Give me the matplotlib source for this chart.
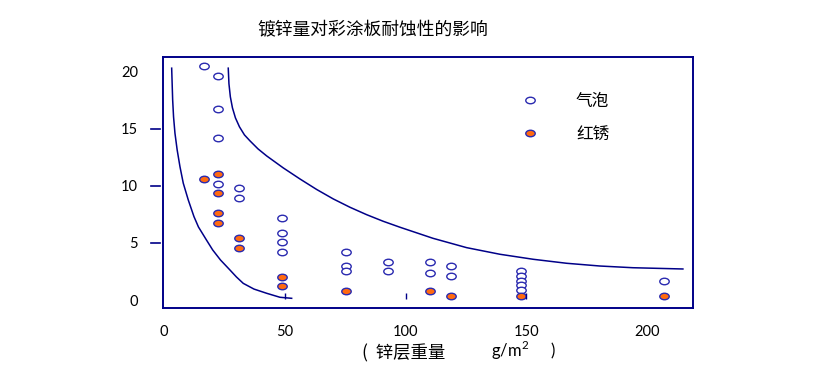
import matplotlib.pyplot as plt
from matplotlib.path import Path
from matplotlib.transforms import Affine2D

# zinc coating weight (g/m2) vs. corrosion data
bubble_x = [16.5, 22.5, 22.5, 22.5, 22.5, 31, 31, 48.8, 48.8, 48.8, 48.8,
            75.3, 75.3, 75.3, 92.7, 92.7, 110, 110, 119, 119,
            148, 148, 148, 148, 148, 207]
bubble_y = [20.5, 19.6, 16.7, 14.2, 10.2, 9.8, 8.9, 7.2, 5.9, 5.1, 4.2,
            4.2, 3.0, 2.5, 3.3, 2.5, 3.3, 2.4, 3.0, 2.1,
            2.5, 2.1, 1.7, 1.3, 0.9, 1.7]
rust_x = [16.5, 22.5, 22.5, 22.5, 22.5, 31, 31, 48.8, 48.8, 75.3, 110, 119, 148, 207]
rust_y = [10.6, 11.05, 9.4, 7.6, 6.75, 5.4, 4.6, 2.0, 1.2, 0.8, 0.8, 0.35, 0.35, 0.35]

# hand drawn boundary curves, traced point by point
inner_x = [3.19, 3.60, 3.97, 4.55, 5.46, 6.62, 7.99, 10.06, 12.42, 14.28,
           17.59, 20.16, 23.39, 27.32, 30.0, 32.82, 37.25, 42.51, 48.01, 52.86]
inner_y = [20.32, 17.54, 16.05, 14.62, 13.16, 11.69, 10.24, 8.77, 7.31, 6.40,
           5.26, 4.39, 3.51, 2.63, 2.02, 1.46, 0.96, 0.59, 0.24, 0.15]
outer_x = [26.61, 26.90, 27.48, 28.35, 29.59, 31.25, 33.32, 35.60, 38.91,
           42.51, 49.38, 56.29, 63.20, 70.08, 76.99, 83.90, 90.77,
           97.68, 111.34, 125.29, 139.07, 152.86, 166.68, 180.46, 194.12, 214.82]
outer_y = [20.32, 18.95, 17.81, 16.84, 15.96, 15.18, 14.47, 13.95, 13.25,
           12.63, 11.58, 10.61, 9.69, 8.86, 8.13, 7.48, 6.90,
           6.38, 5.41, 4.59, 4.01, 3.57, 3.22, 2.98, 2.83, 2.72]

xticks = [0, 50, 100, 150, 200]
yticks = [0, 5, 10, 15, 20]
ymarks = [5, 10, 15]
xmarks = [50, 100, 150]

navy = '#000088'
blue = '#2b2bb0'
orange = '#ff6a10'
cjk = ['Noto Sans CJK SC', 'DejaVu Sans']

plt.rcParams['font.family'] = ['Lato', 'Noto Sans CJK SC', 'DejaVu Sans']
plt.rcParams['mathtext.fontset'] = 'custom'
plt.rcParams['mathtext.rm'] = 'Lato'

# flat ellipse marker like the original drawing
ellipse = Path.unit_circle().transformed(Affine2D().scale(1.45, 1.0))

fig = plt.figure(figsize=(8.36, 3.83), dpi=100)
ax = fig.add_axes([163 / 836, 1 - 308 / 383, 530 / 836, 251 / 383])

ax.plot(inner_x, inner_y, color=navy, lw=1.1, solid_joinstyle='round')
ax.plot(outer_x, outer_y, color=navy, lw=1.1, solid_joinstyle='round')
ax.plot(bubble_x, bubble_y, ls='none', marker=ellipse, ms=6.8,
        mfc='white', mec=blue, mew=1.0, label='气泡')
ax.plot(rust_x, rust_y, ls='none', marker=ellipse, ms=6.8,
        mfc=orange, mec=blue, mew=1.0, label='红锈')

# small stray tick marks of the original
ax.vlines(xmarks, 0.035, 0.06, transform=ax.get_xaxis_transform(),
          color=navy, lw=1.0)
for v in ymarks:
    ax.plot([-0.023, -0.006], [v, v], transform=ax.get_yaxis_transform(),
            color=navy, lw=1.2, clip_on=False)

ax.set_xlim(-0.4, 219)
ax.set_ylim(-0.7, 21.3)
ax.set_xticks(xticks)
ax.set_yticks(yticks)
ax.tick_params(length=0, labelsize=10.5)
ax.tick_params(axis='x', pad=12)
ax.tick_params(axis='y', pad=18)
for s in ax.spines.values():
    s.set_color(navy)
    s.set_linewidth(1.4)

leg = ax.legend(loc='upper left', bbox_to_anchor=(0.633, 0.916), frameon=False,
                prop={'family': cjk, 'size': 12}, handlelength=2.0,
                handletextpad=1.75, labelspacing=0.95)

fig.text(373 / 836, 1 - 30 / 383, '镀锌量对彩涂板耐蚀性的影响', family=cjk,
         fontsize=12.8, ha='center', va='center')
fig.text(404 / 836, 1 - 353 / 383, '(  锌层重量', family=cjk,
         fontsize=12.5, ha='center', va='center')
fig.text(510 / 836, 1 - 350 / 383, 'g/m$^2$', fontsize=12,
         ha='center', va='center')
fig.text(553 / 836, 1 - 351 / 383, ')', fontsize=12,
         ha='center', va='center')

fig.savefig('out.png', dpi=100)
